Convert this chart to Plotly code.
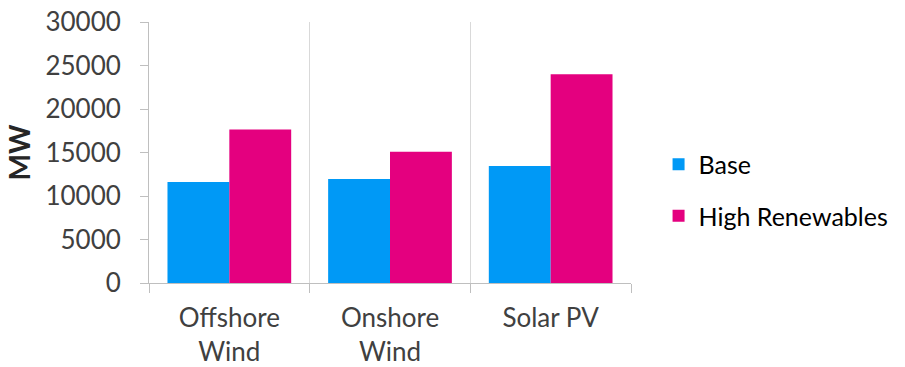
import plotly.graph_objects as go

# Installed capacity by technology under two scenarios (MW)
categories = ["Offshore<br>Wind", "Onshore<br>Wind", "Solar PV"]
base_mw = [11600, 11950, 13450]
high_renewables_mw = [17650, 15100, 24000]
y_ticks = [0, 5000, 10000, 15000, 20000, 25000, 30000]
y_tick_labels = [str(v) for v in y_ticks]

FONT = "Lato, 'Noto Sans', sans-serif"
AXIS_GREY = "#BFBFBF"
GRID_GREY = "#D9D9D9"

fig = go.Figure()
fig.add_trace(go.Bar(
    name="Base", x=categories, y=base_mw,
    marker=dict(color="#0099F6", line=dict(width=0)),
    legendgroup="base",
))
fig.add_trace(go.Bar(
    name="High Renewables", x=categories, y=high_renewables_mw,
    marker=dict(color="#E4007F", line=dict(width=0)),
    legendgroup="high",
))

fig.update_layout(
    width=905, height=367,
    margin=dict(l=149, r=273, t=22, b=84),
    paper_bgcolor="white", plot_bgcolor="white",
    barmode="group", bargap=0.23, bargroupgap=0,
    font=dict(family=FONT, size=26, color="#404040"),
    legend=dict(
        x=1.055, y=0.356, xanchor="left", yanchor="middle",
        font=dict(size=25, color="#000000"),
        tracegroupgap=16, bgcolor="rgba(0,0,0,0)",
    ),
    showlegend=True,
)

fig.update_xaxes(
    type="category", tickson="boundaries", automargin=False,
    showgrid=True, gridcolor=GRID_GREY, gridwidth=1,
    showline=True, linecolor=AXIS_GREY, linewidth=1,
    ticks="outside", ticklen=9, tickcolor=AXIS_GREY,
    tickfont=dict(size=26, color="#404040"),
    ticklabelstandoff=12,
)
fig.update_yaxes(
    range=[0, 30000], tickvals=y_ticks, ticktext=y_tick_labels,
    automargin=False,
    showgrid=False, zeroline=False,
    showline=True, linecolor=AXIS_GREY, linewidth=1,
    ticks="outside", ticklen=8, tickcolor=AXIS_GREY,
    tickfont=dict(size=26, color="#404040"),
    ticklabelstandoff=14,
    title=dict(text="<b>MW</b>", font=dict(size=28, color="#262626"), standoff=6),
)

fig.write_html("out.html")
